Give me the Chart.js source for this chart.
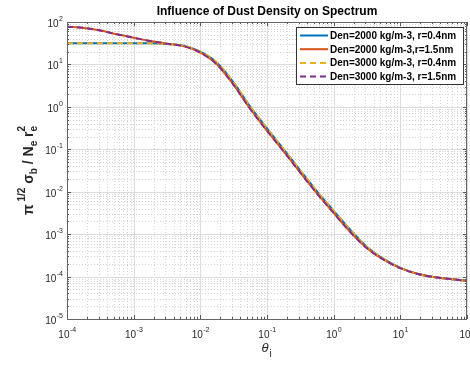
<!DOCTYPE html>
<html>
<head>
<meta charset="utf-8">
<script src="https://cdn.jsdelivr.net/npm/chart.js@4"></script>
<style>
  body { margin: 0; background: #fff; }
  canvas { display: block; }
</style>
</head>
<body>
<canvas id="spectrumChart" width="470" height="365"></canvas>
<script>
// theta_i sample points (quarter decades)
const theta = [1e-4, 1.78e-4, 3.16e-4, 5.62e-4, 1e-3, 1.78e-3, 3.16e-3, 5.62e-3,
  1e-2, 1.78e-2, 3.16e-2, 5.62e-2, 1e-1, 1.78e-1, 3.16e-1, 5.62e-1,
  1, 1.78, 3.16, 5.62, 10, 17.8, 31.6, 56.2, 100];

const den2000r04 = [31.6, 31.6, 31.6, 31.6, 31.6, 31.4, 30.2, 27.5,
  20.0, 11.0, 3.72, 1.0, 0.31, 0.1, 0.0316, 0.0102,
  3.55e-3, 1.26e-3, 5.0e-4, 2.6e-4, 1.6e-4, 1.17e-4, 9.77e-5, 8.71e-5, 7.94e-5];
const den2000r15 = [77.6, 72.4, 63.1, 51.3, 42.7, 35.5, 30.9, 26.9,
  19.1, 10.0, 3.31, 0.89, 0.275, 0.0891, 0.0282, 0.00912,
  3.16e-3, 1.12e-3, 4.68e-4, 2.51e-4, 1.58e-4, 1.17e-4, 9.77e-5, 8.71e-5, 7.94e-5];
const den3000r04 = [31.6, 31.6, 31.6, 31.6, 31.6, 31.4, 30.2, 27.5,
  20.0, 11.0, 3.72, 1.0, 0.31, 0.1, 0.0316, 0.0102,
  3.55e-3, 1.26e-3, 5.0e-4, 2.6e-4, 1.6e-4, 1.17e-4, 9.77e-5, 8.71e-5, 7.94e-5];
const den3000r15 = [77.6, 72.4, 63.1, 51.3, 42.7, 35.5, 30.9, 26.9,
  19.1, 10.0, 3.31, 0.89, 0.275, 0.0891, 0.0282, 0.00912,
  3.16e-3, 1.12e-3, 4.68e-4, 2.51e-4, 1.58e-4, 1.17e-4, 9.77e-5, 8.71e-5, 7.94e-5];

const seriesLabels = [
  "Den=2000 kg/m-3, r=0.4nm",
  "Den=2000 kg/m-3,r=1.5nm",
  "Den=3000 kg/m-3, r=0.4nm",
  "Den=3000 kg/m-3, r=1.5nm"
];

const xDecades = [-4, -3, -2, -1, 0, 1, 2];
const yDecades = [-5, -4, -3, -2, -1, 0, 1, 2];

const chartTitle = "Influence of Dust Density on Spectrum";

const FONT = '"Liberation Sans", Arial, sans-serif';

function pts(vals) {
  return theta.map((t, i) => ({ x: t, y: vals[i] }));
}

// draws grid, box, ticks, labels, legend
const decor = {
  id: "decor",
  beforeDatasetsDraw(chart) {
    const { ctx, chartArea: a, scales: { x, y } } = chart;
    ctx.save();
    ctx.lineWidth = 1;

    // minor grid
    ctx.strokeStyle = "#d6d6d6";
    ctx.setLineDash([1, 2]);
    ctx.beginPath();
    xDecades.slice(0, -1).forEach(e => {
      for (let m = 2; m <= 9; m++) {
        const px = Math.round(x.getPixelForValue(m * Math.pow(10, e))) + 0.5;
        ctx.moveTo(px, a.top); ctx.lineTo(px, a.bottom);
      }
    });
    yDecades.slice(0, -1).forEach(e => {
      for (let m = 2; m <= 9; m++) {
        const py = Math.round(y.getPixelForValue(m * Math.pow(10, e))) + 0.5;
        ctx.moveTo(a.left, py); ctx.lineTo(a.right, py);
      }
    });
    ctx.stroke();

    // major grid
    ctx.setLineDash([]);
    ctx.strokeStyle = "#dcdcdc";
    ctx.beginPath();
    xDecades.forEach(e => {
      const px = Math.round(x.getPixelForValue(Math.pow(10, e))) + 0.5;
      ctx.moveTo(px, a.top); ctx.lineTo(px, a.bottom);
    });
    yDecades.forEach(e => {
      const py = Math.round(y.getPixelForValue(Math.pow(10, e))) + 0.5;
      ctx.moveTo(a.left, py); ctx.lineTo(a.right, py);
    });
    ctx.stroke();
    ctx.restore();
  },
  afterDatasetsDraw(chart) {
    const { ctx, chartArea: a, scales: { x, y } } = chart;
    ctx.save();

    // ticks (inside, all four sides)
    ctx.strokeStyle = "#555";
    ctx.lineWidth = 1;
    ctx.beginPath();
    xDecades.forEach((e, k) => {
      const px = Math.round(x.getPixelForValue(Math.pow(10, e))) + 0.5;
      ctx.moveTo(px, a.bottom); ctx.lineTo(px, a.bottom - 4);
      ctx.moveTo(px, a.top); ctx.lineTo(px, a.top + 4);
      if (k < xDecades.length - 1) {
        for (let m = 2; m <= 9; m++) {
          const q = Math.round(x.getPixelForValue(m * Math.pow(10, e))) + 0.5;
          ctx.moveTo(q, a.bottom); ctx.lineTo(q, a.bottom - 2);
          ctx.moveTo(q, a.top); ctx.lineTo(q, a.top + 2);
        }
      }
    });
    yDecades.forEach((e, k) => {
      const py = Math.round(y.getPixelForValue(Math.pow(10, e))) + 0.5;
      ctx.moveTo(a.left, py); ctx.lineTo(a.left + 4, py);
      ctx.moveTo(a.right, py); ctx.lineTo(a.right - 4, py);
      if (k < yDecades.length - 1) {
        for (let m = 2; m <= 9; m++) {
          const q = Math.round(y.getPixelForValue(m * Math.pow(10, e))) + 0.5;
          ctx.moveTo(a.left, q); ctx.lineTo(a.left + 2, q);
          ctx.moveTo(a.right, q); ctx.lineTo(a.right - 2, q);
        }
      }
    });
    ctx.stroke();

    // box
    ctx.strokeStyle = "#666";
    ctx.strokeRect(Math.round(a.left) + 0.5, Math.round(a.top) + 0.5,
      Math.round(a.right - a.left) - 1, Math.round(a.bottom - a.top));

    // tick labels
    ctx.fillStyle = "#262626";
    const big = "10px " + FONT, small = "7px " + FONT;
    xDecades.forEach(e => {
      const px = x.getPixelForValue(Math.pow(10, e));
      const exp = e < 0 ? "-" + (-e) : String(e);
      ctx.font = big; const w1 = ctx.measureText("10").width;
      ctx.font = small; const w2 = ctx.measureText(exp).width;
      const left = px - (w1 + w2) / 2;
      ctx.textAlign = "left"; ctx.textBaseline = "alphabetic";
      ctx.font = big; ctx.fillText("10", left, a.bottom + 19);
      ctx.font = small; ctx.fillText(exp, left + w1 + 0.5, a.bottom + 13);
    });
    yDecades.forEach(e => {
      const py = y.getPixelForValue(Math.pow(10, e));
      const exp = e < 0 ? "-" + (-e) : String(e);
      ctx.font = small; const w2 = ctx.measureText(exp).width;
      ctx.font = big; const w1 = ctx.measureText("10").width;
      const right = a.left - 4;
      ctx.textAlign = "left"; ctx.textBaseline = "alphabetic";
      ctx.font = big; ctx.fillText("10", right - w2 - w1 - 0.5, py + 5);
      ctx.font = small; ctx.fillText(exp, right - w2, py - 1);
    });

    // title
    ctx.fillStyle = "#000";
    ctx.font = "bold 12px " + FONT;
    ctx.textAlign = "center";
    ctx.fillText(chartTitle, (a.left + a.right) / 2, 15);

    // x axis label: theta_i
    ctx.textAlign = "left";
    ctx.fillStyle = "#262626";
    ctx.font = "italic 13px " + FONT;
    const cx = (a.left + a.right) / 2;
    const tw = ctx.measureText("\u03b8").width;
    ctx.fillText("\u03b8", cx - tw / 2 - 2, 352);
    ctx.font = "10px " + FONT;
    ctx.fillText("i", cx + tw / 2 - 1, 357);

    // y axis label: pi^{1/2} sigma_b / N_e r_e^2
    ctx.save();
    ctx.translate(33, (a.top + a.bottom) / 2);
    ctx.rotate(-Math.PI / 2);
    const parts = [
      ["\u03c0", 0, 14],
      [" 1/2", -8, 10],
      [" \u03c3", 0, 14],
      ["b", 4, 10],
      [" / N", 0, 14],
      ["e", 4, 10],
      [" r", 0, 14],
      ["e", 4, 10],
      ["2", -8, 10, true]
    ];
    let total = 0;
    parts.forEach(p => {
      ctx.font = "bold " + p[2] + "px " + FONT;
      if (!p[3]) total += ctx.measureText(p[0]).width;
    });
    let cur = -total / 2;
    let lastW = 0;
    parts.forEach(p => {
      ctx.font = "bold " + p[2] + "px " + FONT;
      const w = ctx.measureText(p[0]).width;
      if (p[3]) {
        ctx.fillText(p[0], cur - lastW, p[1]);
      } else {
        ctx.fillText(p[0], cur, p[1]);
        cur += w; lastW = w;
      }
    });
    ctx.restore();

    // legend
    const lx = 296, ly = 27, lw = 167, lh = 57;
    ctx.fillStyle = "#fff";
    ctx.fillRect(lx, ly, lw, lh);
    ctx.strokeStyle = "#333";
    ctx.lineWidth = 1;
    ctx.strokeRect(lx + 0.5, ly + 0.5, lw, lh);
    ctx.font = "bold 10px " + FONT;
    ctx.textAlign = "left";
    chart.data.datasets.forEach((ds, i) => {
      const yy = ly + 8.5 + i * 13.7;
      ctx.strokeStyle = ds.borderColor;
      ctx.lineWidth = 2;
      ctx.setLineDash(ds.borderDash || []);
      ctx.beginPath();
      ctx.moveTo(lx + 4, yy); ctx.lineTo(lx + 32, yy);
      ctx.stroke();
      ctx.setLineDash([]);
      ctx.fillStyle = "#000";
      ctx.fillText(ds.label, lx + 34, yy + 3.5);
    });

    ctx.restore();
  }
};

const ctx = document.getElementById("spectrumChart");

new Chart(ctx, {
  type: "line",
  data: {
    datasets: [
      { label: seriesLabels[0], data: pts(den2000r04), borderColor: "#0072BD", order: 4 },
      { label: seriesLabels[1], data: pts(den2000r15), borderColor: "#D95319", order: 3 },
      { label: seriesLabels[2], data: pts(den3000r04), borderColor: "#EDB120", borderDash: [6, 4], order: 2 },
      { label: seriesLabels[3], data: pts(den3000r15), borderColor: "#7E2F8E", borderDash: [6, 4], order: 1 }
    ]
  },
  options: {
    responsive: false,
    animation: false,
    devicePixelRatio: 1,
    layout: { padding: { top: 22, right: 3, left: 0, bottom: 0 } },
    elements: {
      point: { radius: 0 },
      line: { borderWidth: 2, cubicInterpolationMode: "monotone", fill: false }
    },
    plugins: {
      legend: { display: false },
      title: { display: false },
      tooltip: { enabled: false }
    },
    scales: {
      x: {
        type: "logarithmic",
        min: 1e-4, max: 1e2,
        grid: { display: false },
        border: { display: false },
        ticks: { display: false },
        afterFit: s => { s.height = 46; }
      },
      y: {
        type: "logarithmic",
        min: 1e-5, max: 1e2,
        grid: { display: false },
        border: { display: false },
        ticks: { display: false },
        afterFit: s => { s.width = 67; }
      }
    }
  },
  plugins: [decor]
});
</script>
</body>
</html>
